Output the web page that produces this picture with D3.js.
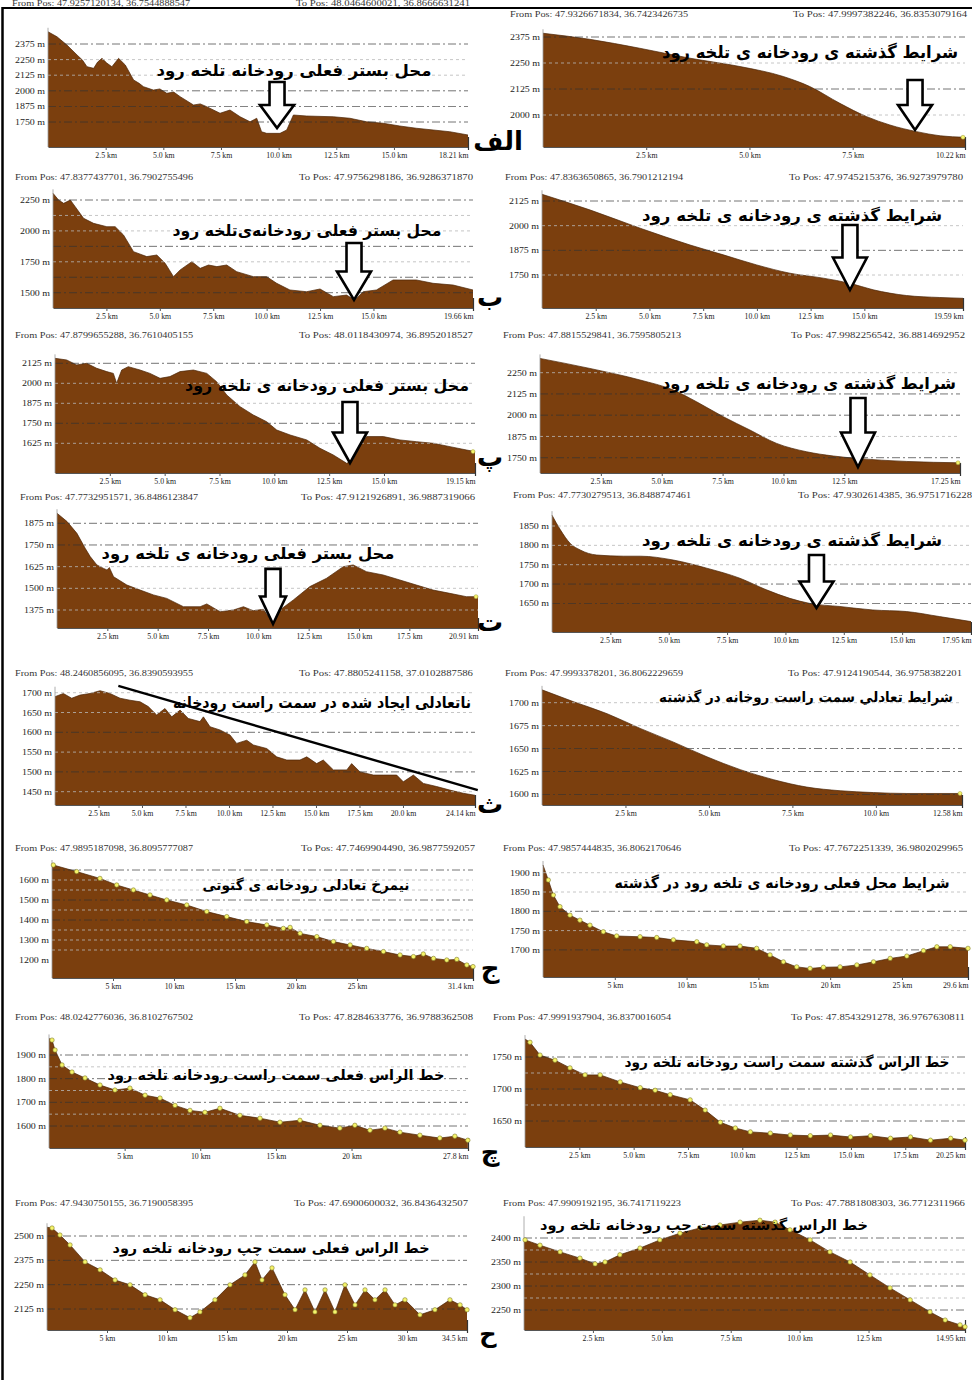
<!DOCTYPE html>
<html><head><meta charset="utf-8">
<script src="https://cdn.jsdelivr.net/npm/d3@7/dist/d3.min.js"></script>
<style>body{margin:0;background:#fff} svg{display:block}</style>
</head><body>
<svg id="c" width="972" height="1380"></svg>
<script>
// ---------------- DATA (km, elevation m) ----------------
const p1Profile = [[0,2473],[0.39,2433],[0.82,2367],[1.26,2287],[1.5,2245],[1.69,2193],[1.98,2180],[2.15,2230],[2.34,2260],[2.55,2222],[2.77,2193],[3.06,2260],[3.35,2207],[3.71,2087],[3.95,2060],[4.14,2033],[4.57,2006],[4.85,2015],[5.15,1980],[5.45,1990],[5.73,1953],[6.31,1886],[6.6,1895],[6.88,1873],[7.46,1820],[7.89,1846],[8.33,1792],[8.76,1752],[9.05,1780],[9.26,1672],[9.48,1659],[10.06,1659],[10.35,1686],[10.64,1806],[11.21,1798],[12.37,1792],[13.09,1780],[13.81,1752],[14.53,1740],[15.25,1718],[15.97,1700],[16.7,1686],[17.42,1672],[18.21,1646]];
const p2Profile = [[0,2393],[1.13,2364],[2.34,2321],[3.56,2273],[4.77,2233],[5.82,2185],[6.46,2137],[7.19,2056],[7.84,1992],[8.4,1952],[9.05,1920],[9.62,1900],[10.22,1893]];
const p3Profile = [[0,2304],[0.26,2250],[0.5,2223],[0.81,2250],[1.04,2196],[1.43,2102],[1.9,2061],[2.52,2034],[2.91,2034],[3.3,1967],[3.77,1832],[4.39,1792],[4.86,1805],[5.25,1738],[5.64,1630],[5.95,1684],[6.5,1751],[6.89,1697],[7.28,1724],[7.67,1711],[8.13,1724],[8.6,1670],[9.38,1630],[10.0,1630],[10.47,1576],[11.09,1522],[11.87,1508],[12.5,1530],[13.12,1468],[13.74,1481],[14.13,1441],[14.52,1508],[15.14,1522],[15.92,1603],[17.01,1603],[17.79,1576],[18.73,1562],[19.66,1522]];
const p4Profile = [[0,2159],[2.25,2079],[4.57,1987],[6.89,1902],[8.44,1852],[9.99,1801],[11.54,1759],[13.09,1734],[14.33,1708],[15.41,1675],[16.96,1646],[18.51,1636],[19.59,1632]];
const p5Profile = [[0,2156],[0.53,2146],[0.99,2115],[1.44,2125],[1.9,2094],[2.36,2073],[2.66,2062],[2.81,2000],[3.04,2083],[3.34,2104],[3.88,2083],[4.33,2062],[4.79,2031],[5.24,2042],[5.7,2073],[6.31,2083],[6.92,2062],[7.37,2010],[7.83,1927],[8.44,1854],[9.04,1802],[9.65,1760],[10.11,1708],[10.72,1677],[11.48,1646],[12.08,1594],[12.69,1552],[13.3,1500],[13.6,1521],[13.98,1625],[14.21,1667],[14.97,1667],[15.73,1646],[16.49,1635],[17.25,1625],[18.01,1604],[18.77,1583],[19.15,1573]];
const p6Profile = [[0,2334],[2.05,2275],[4.11,2207],[5.48,2148],[6.43,2079],[7.53,1991],[8.62,1913],[9.72,1834],[10.95,1785],[12.05,1760],[13.0,1746],[15.06,1728],[17.25,1720]];
const p7Profile = [[0,1933],[0.5,1885],[0.99,1817],[1.4,1731],[1.65,1683],[1.98,1635],[2.31,1615],[2.48,1606],[2.6,1620],[2.81,1567],[3.47,1519],[4.13,1490],[4.79,1462],[5.45,1442],[6.28,1394],[7.11,1394],[7.44,1410],[8.1,1365],[8.76,1375],[9.26,1394],[9.75,1371],[10.25,1379],[10.66,1308],[11.07,1375],[11.74,1433],[12.56,1510],[13.39,1558],[14.22,1625],[14.71,1635],[15.37,1596],[16.2,1577],[17.03,1548],[17.85,1519],[18.68,1490],[19.51,1471],[20.33,1452],[20.91,1452]];
const p8Profile = [[0,1878],[0.36,1840],[0.78,1805],[1.21,1788],[1.92,1775],[3.06,1772],[3.78,1772],[5.2,1762],[6.63,1741],[8.05,1715],[9.19,1685],[10.19,1663],[11.04,1650],[12.33,1642],[13.75,1633],[15.18,1629],[16.6,1616],[17.95,1603]];
const p9Profile = [[0,1690],[0.48,1698],[0.96,1686],[1.44,1694],[2.01,1698],[2.59,1705],[3.16,1698],[3.74,1686],[4.31,1681],[4.89,1677],[5.36,1665],[5.84,1644],[6.32,1660],[6.71,1639],[7.19,1656],[7.66,1635],[8.33,1627],[8.53,1639],[8.91,1614],[9.48,1606],[10.06,1593],[10.44,1572],[11.02,1580],[11.4,1568],[12.17,1559],[12.74,1538],[13.32,1530],[14.08,1530],[14.47,1538],[15.04,1521],[15.42,1530],[16.0,1505],[16.77,1505],[17.05,1521],[17.53,1500],[18.3,1492],[18.87,1492],[19.64,1492],[20.02,1475],[20.6,1492],[21.17,1471],[21.94,1463],[22.7,1454],[23.47,1446],[24.14,1441]];
const p9Trend = [[3.64,1717],[24.3,1454]];
const p10Profile = [[0,1714],[0.95,1701],[1.95,1688],[2.94,1672],[3.94,1657],[4.94,1641],[5.94,1627],[6.94,1616],[7.93,1608],[8.93,1604],[9.93,1602],[10.93,1601],[12.58,1601]];
const p11Profile = [[0,1680],[0.11,1675],[2.02,1642],[3.93,1608],[5.3,1575],[6.67,1550],[8.03,1525],[9.4,1500],[11.04,1475],[12.68,1442],[14.32,1417],[15.96,1392],[17.6,1375],[18.96,1358],[19.51,1363],[20.33,1333],[21.7,1317],[23.06,1292],[24.43,1275],[25.79,1258],[27.16,1242],[28.52,1225],[29.62,1217],[30.43,1230],[31.26,1208],[32.35,1200],[33.17,1203],[33.99,1175],[34.5,1167]];
const p12Profile = [[0,1920],[0.37,1881],[0.72,1842],[1.18,1812],[1.88,1790],[2.57,1777],[3.27,1764],[4.2,1747],[5.13,1736],[6.76,1734],[7.92,1732],[9.08,1726],[10.71,1721],[11.4,1713],[12.56,1710],[13.72,1710],[14.88,1704],[15.81,1687],[16.74,1669],[17.67,1656],[18.6,1652],[19.53,1655],[20.69,1656],[21.86,1661],[23.02,1669],[24.18,1678],[25.34,1684],[26.5,1698],[27.43,1708],[28.36,1708],[29.6,1704]];
const p13Profile = [[0,1970],[0.2,1963],[0.4,1921],[0.86,1858],[1.52,1828],[2.38,1803],[3.37,1773],[4.36,1752],[5.35,1760],[6.35,1730],[7.34,1718],[8.33,1687],[9.32,1666],[10.31,1658],[11.3,1675],[12.62,1645],[13.95,1633],[15.27,1616],[16.59,1624],[17.91,1603],[19.23,1591],[20.22,1603],[21.22,1582],[22.21,1591],[23.2,1574],[24.52,1561],[25.84,1549],[26.83,1557],[27.69,1540]];
const p14Profile = [[0,1778],[0.23,1773],[0.69,1753],[1.38,1745],[2.07,1733],[2.76,1722],[3.46,1722],[4.38,1711],[5.3,1702],[5.99,1698],[6.68,1691],[7.6,1683],[8.29,1667],[8.99,1648],[9.68,1639],[10.37,1633],[11.29,1631],[12.21,1628],[13.13,1627],[14.06,1628],[14.98,1625],[15.9,1627],[16.82,1623],[17.74,1625],[18.66,1620],[19.59,1623],[20.25,1620]];
const p15Profile = [[0,2545],[0.42,2541],[1.08,2505],[1.92,2454],[3.17,2367],[4.42,2326],[5.67,2274],[6.92,2249],[8.17,2198],[9.42,2172],[10.67,2121],[11.92,2080],[12.75,2110],[14.0,2172],[15.25,2249],[16.5,2300],[17.33,2367],[17.92,2274],[18.75,2336],[19.83,2198],[20.67,2121],[21.5,2223],[22.33,2110],[23.17,2223],[24.0,2110],[24.83,2249],[25.67,2146],[26.5,2223],[27.33,2172],[28.17,2223],[29.0,2146],[29.83,2172],[31.08,2095],[32.33,2121],[33.58,2172],[34.42,2146],[35.0,2121]];
const p16Profile = [[0,2398],[0.04,2396],[0.58,2385],[1.31,2371],[2.03,2358],[2.58,2346],[2.94,2350],[3.48,2365],[4.21,2379],[4.93,2396],[5.66,2410],[6.39,2421],[7.11,2427],[7.84,2433],[8.56,2437],[9.11,2433],[9.65,2417],[10.38,2396],[11.1,2371],[11.83,2350],[12.55,2323],[13.28,2296],[14.01,2271],[14.73,2246],[15.28,2229],[15.82,2219],[16.0,2215]];

// tick values
const xt25to15 = [2.5,5,7.5,10,12.5,15];
const xt25to75 = [2.5,5,7.5];
const xt25to125 = [2.5,5,7.5,10,12.5];
const xt25to175 = [2.5,5,7.5,10,12.5,15,17.5];
const xt25to20 = [2.5,5,7.5,10,12.5,15,17.5,20];
const xt25to10 = [2.5,5,7.5,10];
const xt5to25 = [5,10,15,20,25];
const xt5to20 = [5,10,15,20];
const xt5to30 = [5,10,15,20,25,30];
const endLabels = ["18.21 km","10.22 km","19.66 km","19.59 km","19.15 km","17.25 km","20.91 km","17.95 km","24.14 km","12.58 km","31.4 km","29.6 km","27.8 km","20.25 km","34.5 km","14.95 km"];
const yTicksList = [
  [2375,2250,2125,2000,1875,1750],[2375,2250,2125,2000],
  [2250,2000,1750,1500],[2125,2000,1875,1750],
  [2125,2000,1875,1750,1625],[2250,2125,2000,1875,1750],
  [1875,1750,1625,1500,1375],[1850,1800,1750,1700,1650],
  [1700,1650,1600,1550,1500,1450],[1700,1675,1650,1625,1600],
  [1600,1500,1400,1300,1200],[1900,1850,1800,1750,1700],
  [1900,1800,1700,1600],[1750,1700,1650],
  [2500,2375,2250,2125],[2400,2350,2300,2250]];
const fromPos = ["From Pos: 47.9257120134, 36.7544888547","From Pos: 47.9326671834, 36.7423426735","From Pos: 47.8377437701, 36.7902755496","From Pos: 47.8363650865, 36.7901212194","From Pos: 47.8799655288, 36.7610405155","From Pos: 47.8815529841, 36.7595805213","From Pos: 47.7732951571, 36.8486123847","From Pos: 47.7730279513, 36.8488747461","From Pos: 48.2460856095, 36.8390593955","From Pos: 47.9993378201, 36.8062229659","From Pos: 47.9895187098, 36.8095777087","From Pos: 47.9857444835, 36.8062170646","From Pos: 48.0242776036, 36.8102767502","From Pos: 47.9991937904, 36.8370016054","From Pos: 47.9430750155, 36.7190058395","From Pos: 47.9909192195, 36.7417119223"];
const toPos = ["To Pos: 48.0464600021, 36.8666631241","To Pos: 47.9997382246, 36.8353079164","To Pos: 47.9756298186, 36.9286371870","To Pos: 47.9745215376, 36.9273979780","To Pos: 48.0118430974, 36.8952018527","To Pos: 47.9982256542, 36.8814692952","To Pos: 47.9121926891, 36.9887319066","To Pos: 47.9302614385, 36.9751716228","To Pos: 47.8805241158, 37.0102887586","To Pos: 47.9124190544, 36.9758382201","To Pos: 47.7469904490, 36.9877592057","To Pos: 47.7672251339, 36.9802029965","To Pos: 47.8284633776, 36.9788362508","To Pos: 47.8543291278, 36.9767630811","To Pos: 47.6900600032, 36.8436432507","To Pos: 47.7881808303, 36.7712311966"];
const notes = ["محل بستر فعلی رودخانه تلخه رود","شرایط گذشته ی رودخانه ی تلخه رود","محل بستر فعلی رودخانه‌ی‌تلخه رود","شرایط گذشته ی رودخانه ی تلخه رود","محل بستر فعلی رودخانه ی تلخه رود","شرایط گذشته ی رودخانه ی تلخه رود","محل بستر فعلی رودخانه ی تلخه رود","شرایط گذشته ی رودخانه ی تلخه رود","ناتعادلی ایجاد شده در سمت راست رودخانه","شرایط تعادلي سمت راست روخانه در گذشته","نیمرخ تعادلی رودخانه ی گتوتی","شرایط محل فعلی رودخانه ی تلخه رود در گذشته","خط الراس فعلی سمت راست رودخانه تلخه رود","خط الراس گذشته سمت راست رودخانه تلخه رود","خط الراس فعلی سمت چپ رودخانه تلخه رود","خط الراس گذشته سمت چپ رودخانه تلخه رود"];
// arrows: [km, top elevation, tip elevation]
const arrowMarks = [[9.93,2070,1702],[9.01,2168,1928],[14.09,1902,1441],[14.33,2003,1674],[13.45,1883,1502],[13.06,2101,1695],[10.73,1612,1294],[11.33,1775,1638]];
const rowLetters = ["الف","ب","پ","ت","ث","ج","چ","ح"];

// ---------------- LAYOUT ----------------
const profiles = [p1Profile,p2Profile,p3Profile,p4Profile,p5Profile,p6Profile,p7Profile,p8Profile,p9Profile,p10Profile,p11Profile,p12Profile,p13Profile,p14Profile,p15Profile,p16Profile];
const xTickSets = [xt25to15,xt25to75,xt25to15,xt25to15,xt25to15,xt25to125,xt25to175,xt25to15,xt25to20,xt25to10,xt5to25,xt5to25,xt5to20,xt25to175,xt5to30,xt25to125];
const spans = [18.21,10.22,19.66,19.59,19.15,17.25,20.91,17.95,24.14,12.58,34.5,29.6,27.7,20.25,35,16.0];
// x0,x1,base, yLowVal,yLowPx,yHighVal,yHighPx, hdrY,hdrL,hdrR
const L = [
 [48,468,147, 1750,122,2375,44, 6,12,470],
 [543,965,147, 2000,115,2375,37, 17,510,967],
 [53,473,308, 1500,292.7,2250,200, 180,15,473],
 [542,963,308, 1750,275,2125,201, 180,505,963],
 [55,475,473, 1625,443.3,2125,363.3, 338,15,473],
 [540,960,473, 1750,457.7,2250,372.7, 338,503,965],
 [57,478,628, 1375,610,1875,523.3, 500,20,475],
 [552,971,632, 1650,603.4,1850,526, 498,513,972],
 [55,475,805, 1450,791.7,1700,692.7, 676,15,473],
 [542,962,805, 1600,794.4,1700,702.7, 676,505,962],
 [52,473,978, 1200,960,1600,880, 851,15,475],
 [543,968,977, 1700,949.9,1900,872.7, 851,503,963],
 [49,468,1148, 1600,1126,1900,1055, 1020,15,473],
 [525,965,1147, 1650,1121,1750,1057, 1020,493,965],
 [47,467,1330, 2125,1309,2500,1236, 1206,15,468],
 [524,965,1330, 2250,1310,2400,1238, 1206,503,965]];
const gridDark = [[2375,2000,1875,1750],[2375,2125],[2250,1875,1625,1500],[2125,1875],[2125,1750],[2125,2000,1750],[1875,1750],[1700,1650],[1600,1500],[1650,1625,1600],[1650,1500,1400],[1800,1700],[1900,1800,1700,1600],[1750,1700,1650],[2500,2375,2250,2125],[2400,2350,2300,2250]];
const gridLight = [[2250,2125],[2250,2000],[2125,2000,1750],[2000,1750],[2000,1875,1625],[2250,1875],[1625,1500,1375],[1850,1800,1750],[1700,1650,1550,1450],[1700,1675],[1600,1550,1450,1350,1300,1250],[1900,1850,1750],[1850,1750,1650],[1725,1675],[],[2375,2325,2275]];
// note: cx, cy, width, font size
const noteLayout = [[294,70,275,16],[810,52,296,17],[307,230,269,16],[792,215,300,16],[327,385,284,16],[809,383,294,16],[248,553,293,16],[792,540,300,16],[322,702,298,16],[806,697,294,14],[306,885,207,14],[782,883,335,15],[276,1075,337,14],[787,1062,325,14],[271,1248,317,14],[704,1225,328,14]];
const smooth = [false,true,false,true,false,true,false,true,false,true,false,false,false,false,false,false];
const withDots = [false,false,false,false,false,false,false,false,false,false,true,true,true,true,true,true];
const endDot = [false,true,false,false,true,true,true,false,false,true,false,false,false,false,false,false];
const letterPos = [[498,150,26],[490,306,26],[490,466,26],[490,631,26],[490,813,26],[490,977,26],[490,1161,26],[488,1342,24]];

const SERIF = "'Liberation Serif','DejaVu Serif',serif";
const ARAB = "'DejaVu Sans',sans-serif";
const BROWN = "#7b3f0e";

const svg = d3.select("#c");
svg.append("rect").attr("width",972).attr("height",1380).attr("fill","#fff");

profiles.forEach((data,i) => {
  const [x0,x1,base,yLv,yLp,yHv,yHp,hdrY,hdrL,hdrR] = L[i];
  const g = svg.append("g");
  const x = d3.scaleLinear().domain([0,spans[i]]).range([x0,x1]);
  const y = d3.scaleLinear().domain([yLv,yHv]).range([yLp,yHp]);

  // headers
  g.append("text").attr("x",hdrL).attr("y",hdrY).text(fromPos[i])
    .attr("font-family",SERIF).attr("font-size",8).attr("fill","#333")
    .attr("textLength",178).attr("lengthAdjust","spacingAndGlyphs");
  g.append("text").attr("x",hdrR).attr("y",hdrY).attr("text-anchor","end").text(toPos[i])
    .attr("font-family",SERIF).attr("font-size",8).attr("fill","#333")
    .attr("textLength",174).attr("lengthAdjust","spacingAndGlyphs");

  // area
  const curve = smooth[i] ? d3.curveMonotoneX : d3.curveLinear;
  const area = d3.area().x(d=>x(d[0])).y0(base).y1(d=>y(d[1])).curve(curve);
  g.append("path").datum(data).attr("d",area).attr("fill",BROWN);
  const line = d3.line().x(d=>x(d[0])).y(d=>y(d[1])).curve(curve);
  g.append("path").datum(data).attr("d",line).attr("fill","none")
    .attr("stroke","#4a2406").attr("stroke-width",0.7);

  // gridlines
  gridLight[i].forEach(v => g.append("line").attr("x1",x0).attr("x2",x1)
    .attr("y1",y(v)).attr("y2",y(v)).attr("stroke","#b8b8b8").attr("stroke-width",0.8)
    .attr("stroke-dasharray","3,3"));
  gridDark[i].forEach(v => g.append("line").attr("x1",x0).attr("x2",x1)
    .attr("y1",y(v)).attr("y2",y(v)).attr("stroke","#333").attr("stroke-width",0.8)
    .attr("stroke-dasharray","8,3,2,3").attr("opacity",0.85));

  // left axis line
  const topPx = Math.min(y(yTicksList[i][0]), y(d3.max(data,d=>d[1]))) - 4;
  g.append("line").attr("x1",x0).attr("x2",x0).attr("y1",topPx).attr("y2",base)
    .attr("stroke","#999").attr("stroke-width",0.8);

  // x axis
  const ticks = xTickSets[i];
  const step5 = ticks[1]-ticks[0] === 5;
  const xa = g.append("g").attr("transform",`translate(0,${base})`)
    .call(d3.axisBottom(x).tickValues(ticks.concat([spans[i]]))
      .tickFormat((d,k) => k === ticks.length ? endLabels[i] : (step5 ? d + " km" : d3.format(".1f")(d) + " km"))
      .tickSize(3).tickSizeOuter(0));
  xa.select(".domain").attr("stroke","#555").attr("stroke-width",1);
  xa.selectAll(".tick line").attr("stroke","#555");
  xa.selectAll(".tick text").attr("font-family",SERIF).attr("font-size",7.8)
    .attr("fill","#222").attr("y",5);
  xa.selectAll(".tick").filter((d,k)=>k===ticks.length).select("text").attr("text-anchor","end");
  xa.selectAll(".tick").filter((d,k)=>k===ticks.length).select("line")
    .attr("y1",-10).attr("y2",3).attr("stroke","#333").attr("stroke-width",1.2);

  // y axis labels
  const ya = g.append("g").attr("transform",`translate(${x0},0)`)
    .call(d3.axisLeft(y).tickValues(yTicksList[i]).tickFormat(d=>d+" m").tickSize(0).tickPadding(3));
  ya.select(".domain").remove();
  ya.selectAll("text").attr("font-family",SERIF).attr("font-size",8).attr("fill","#222")
    .attr("textLength",30).attr("lengthAdjust","spacingAndGlyphs");

  // dots
  if (withDots[i]) {
    g.selectAll("circle.dot").data(data.slice(1)).join("circle").attr("class","dot")
      .attr("cx",d=>x(d[0])).attr("cy",d=>y(d[1])).attr("r",2.2)
      .attr("fill","#f6f46a").attr("stroke","#7d7a2a").attr("stroke-width",0.6);
  }
  if (endDot[i]) {
    const d = data[data.length-1];
    g.append("circle").attr("cx",x(d[0])-2).attr("cy",y(d[1])).attr("r",2)
      .attr("fill","#f6f46a").attr("stroke","#9a9a40").attr("stroke-width",0.5);
  }

  // trend line (panel 9)
  if (i === 8) {
    g.append("path").datum(p9Trend).attr("d",d3.line().x(d=>x(d[0])).y(d=>y(d[1])))
      .attr("stroke","#000").attr("stroke-width",2.4).attr("fill","none");
  }

  // arrow
  if (i < arrowMarks.length) {
    const [km,topE,tipE] = arrowMarks[i];
    const cx = x(km), t = y(topE), tip = y(tipE);
    const hs = t + (tip - t) * 0.5, sw = 7.5, hw = (i===6 ? 13 : 17);
    const pts = [[cx-sw,t],[cx+sw,t],[cx+sw,hs],[cx+hw,hs],[cx,tip],[cx-hw,hs],[cx-sw,hs]];
    g.append("polygon").attr("points",pts.map(p=>p.join(",")).join(" "))
      .attr("fill","#fff").attr("stroke","#000").attr("stroke-width",2.6)
      .attr("stroke-linejoin","miter");
  }

  // note text
  const [ncx,ncy,nw,nfs] = noteLayout[i];
  g.append("text").attr("x",ncx).attr("y",ncy).attr("text-anchor","middle")
    .attr("dominant-baseline","central").text(notes[i])
    .attr("font-family",ARAB).attr("font-weight","bold").attr("font-size",nfs).attr("fill","#000")
    .attr("textLength",nw).attr("lengthAdjust","spacingAndGlyphs");
});

// row letters
rowLetters.forEach((t,r) => {
  const [lx,ly,ls] = letterPos[r];
  svg.append("text").attr("x",lx).attr("y",ly).attr("text-anchor","middle")
    .text(t).attr("font-family",ARAB).attr("font-weight","bold")
    .attr("font-size",ls).attr("fill","#000");
});

// frame
svg.append("line").attr("x1",2).attr("x2",972).attr("y1",8).attr("y2",8).attr("stroke","#000").attr("stroke-width",2);
svg.append("line").attr("x1",2.5).attr("x2",2.5).attr("y1",7).attr("y2",1380).attr("stroke","#000").attr("stroke-width",2.5);
</script>
</body></html>
